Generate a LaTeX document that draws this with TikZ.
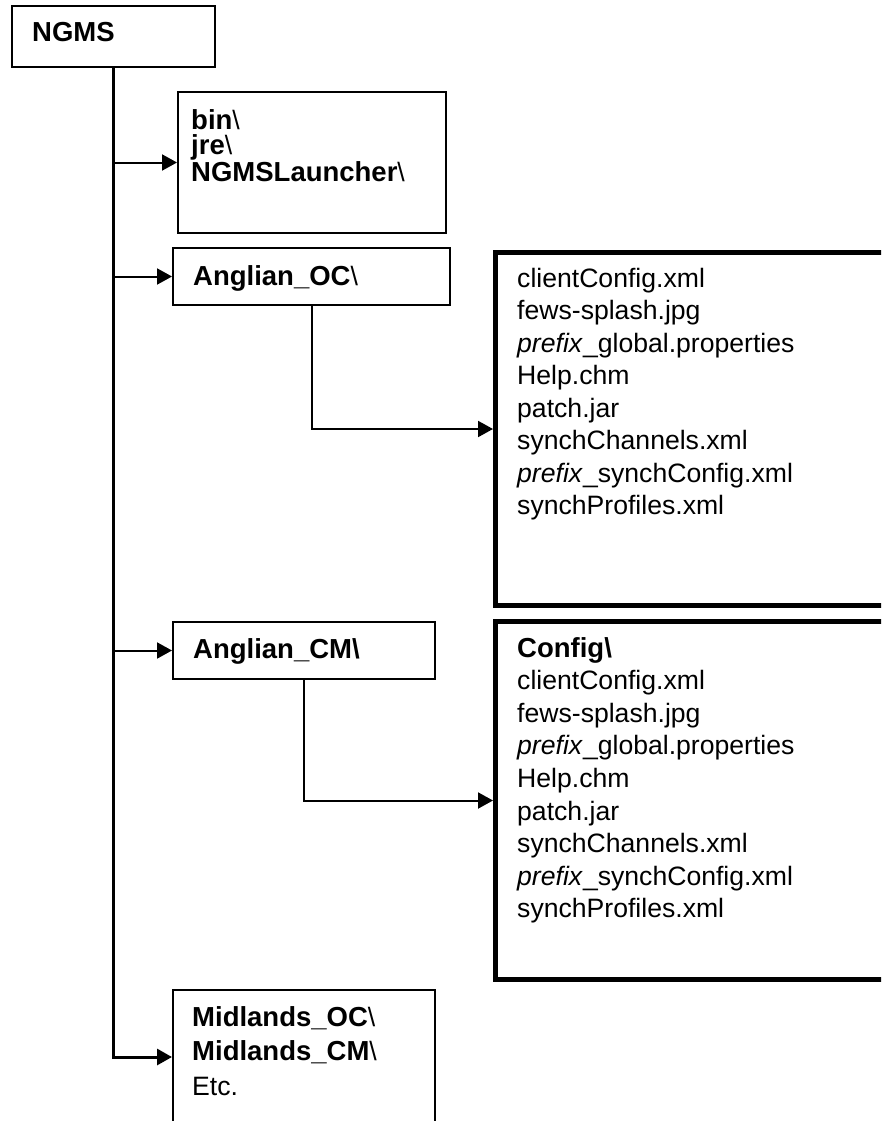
\documentclass[tikz,border=0pt]{standalone}
\usepackage{fontspec}
\setmainfont{Liberation Sans}
\usetikzlibrary{arrows.meta}
\newcommand{\rg}{\fontsize{26.6}{32}\selectfont\mdseries}
\newcommand{\bd}{\fontsize{27.5}{32}\selectfont\bfseries}
\newcommand{\bsl}{\textbackslash}
\begin{document}
\begin{tikzpicture}[x=1pt,y=-1pt,
  box/.style={draw, line width=2pt, rectangle, inner sep=0pt, anchor=north west},
  filebox/.style={draw, line width=5pt, rectangle, inner sep=0pt, anchor=north west},
  txt/.style={inner sep=0pt, anchor=base west, font=\rg},
  arr/.style={line width=2pt, -{Triangle[length=15pt 0 0,width=16pt 0 0]}},
  trunk/.style={line width=3pt, -{Triangle[length=15pt 0 0,width=16pt 0 0]}}]
\useasboundingbox (0,0) rectangle (881,1121);
\clip (0,0) rectangle (881,1121);
% boxes
\node[box, minimum width=203pt, minimum height=61pt] (ngms) at (11,5) {};
\node[box, minimum width=268pt, minimum height=141pt] (bin) at (177,91) {};
\node[box, minimum width=277pt, minimum height=57pt] (aoc) at (172,247) {};
\node[box, minimum width=262pt, minimum height=57pt] (acm) at (172,621) {};
\node[box, minimum width=262pt, minimum height=134pt] (mid) at (172,989) {};
\node[filebox, minimum width=420pt, minimum height=353pt] (roc) at (493,250) {};
\node[filebox, minimum width=420pt, minimum height=358pt] (rcm) at (493,619) {};
% texts
\node[txt, font=\bd] (tngms) at (32,42) {NGMS};
\node[txt] (tbin) at (191,129) {\vtop{\baselineskip=25.5pt
  \hbox{{\bd bin}\bsl}\hbox{{\bd jre}\bsl}\hbox{{\bd NGMSLauncher}\bsl}}};
\node[txt] (taoc) at (193,285) {{\bd Anglian\_OC}\bsl};
\node[txt, font=\bd] (tacm) at (193,658) {Anglian\_CM\bsl};
\node[txt] (tmid) at (192,1026) {\vtop{\baselineskip=34.5pt
  \hbox{{\bd Midlands\_OC}\bsl}\hbox{{\bd Midlands\_CM}\bsl}\hbox{Etc.}}};
\node[txt] (troc) at (517,287) {\vtop{\baselineskip=32.5pt
  \hbox{clientConfig.xml}
  \hbox{fews-splash.jpg}
  \hbox{\textit{prefix}\_global.properties}
  \hbox{Help.chm}
  \hbox{patch.jar}
  \hbox{synchChannels.xml}
  \hbox{\textit{prefix}\_synchConfig.xml}
  \hbox{synchProfiles.xml}}};
\node[txt] (trcm) at (517,657) {\vtop{\baselineskip=32.6pt
  \hbox{\bd Config\bsl}
  \hbox{clientConfig.xml}
  \hbox{fews-splash.jpg}
  \hbox{\textit{prefix}\_global.properties}
  \hbox{Help.chm}
  \hbox{patch.jar}
  \hbox{synchChannels.xml}
  \hbox{\textit{prefix}\_synchConfig.xml}
  \hbox{synchProfiles.xml}}};
% connectors
\draw[trunk] (ngms.south) |- (mid.west);
\draw[arr] (ngms.south |- bin.west) -- (bin.west);
\draw[arr] (ngms.south |- aoc.west) -- (aoc.west);
\draw[arr] (ngms.south |- acm.west) -- (acm.west);
\draw[arr] (aoc.south) |- (roc.west);
\draw[arr] (acm.south) |- (rcm.west);
\end{tikzpicture}
\end{document}
